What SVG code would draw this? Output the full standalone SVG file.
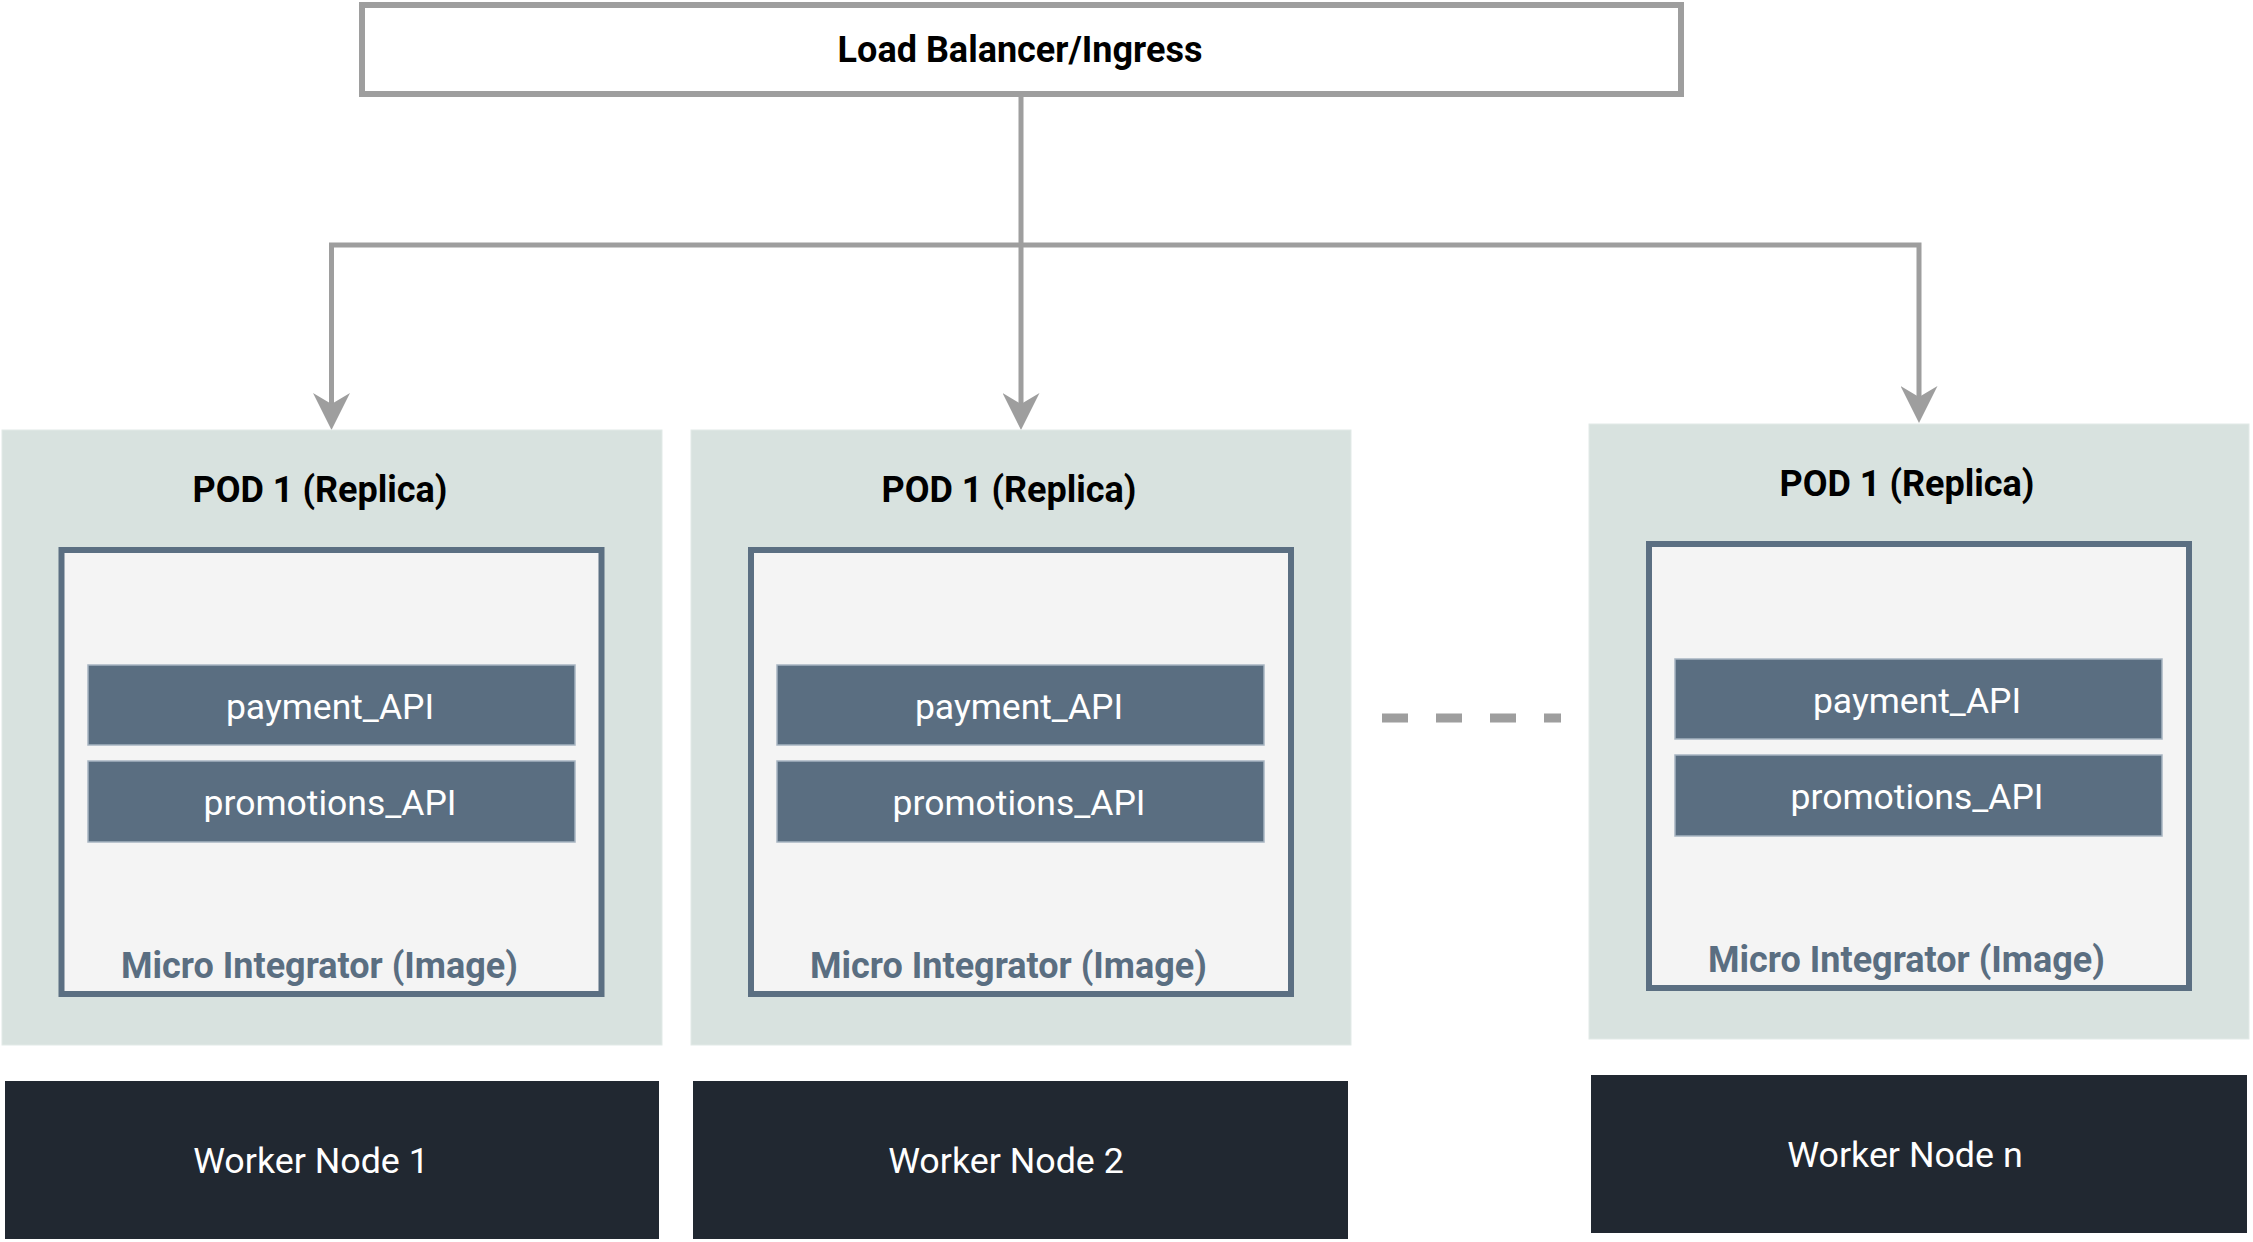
<svg xmlns="http://www.w3.org/2000/svg" width="2253" height="1242" viewBox="0 0 2253 1242">
  <style>
    .lb { fill: #ffffff; stroke: #9e9e9e; stroke-width: 6; }
    .pod { fill: #d8e2df; stroke: #e2eae7; stroke-width: 1; }
    .img { fill: #f4f4f4; stroke: #5b6f82; stroke-width: 6; }
    .api { fill: #5a6e81; stroke: #a6b4c1; stroke-width: 1.5; }
    .worker { fill: #212831; }
    .conn { fill: none; stroke: #9e9e9e; stroke-width: 5; stroke-linejoin: miter; }
    .dash { fill: none; stroke: #9e9e9e; stroke-width: 9; stroke-dasharray: 26 28; }
    text { font-family: Roboto, "Liberation Sans", sans-serif; text-anchor: middle; }
    .title { font-size: 36px; font-weight: 700; fill: #000000; }
    .apitxt { font-size: 35.5px; font-weight: 400; fill: #ffffff; }
    .imgtxt { font-size: 36px; font-weight: 700; fill: #5a6e81; }
    .wtxt { font-size: 35.8px; font-weight: 400; fill: #ffffff; }
  </style>
  <defs>
    <marker id="arrow" viewBox="0 0 37 37" refX="11" refY="18.5" markerWidth="37" markerHeight="37" markerUnits="userSpaceOnUse" orient="auto">
      <path d="M0,0 L37,18.5 L0,37 L11,18.5 Z" fill="#9e9e9e"/>
    </marker>
  </defs>
  <rect x="0" y="0" width="2253" height="1242" fill="#ffffff"/>

  <g id="load-balancer">
    <rect class="lb" x="362" y="5" width="1319" height="89"/>
    <text class="title" x="1020" y="62">Load Balancer/Ingress</text>
  </g>

  <g id="connectors">
    <path class="conn" d="M1021,97 V404" marker-end="url(#arrow)"/>
    <path class="conn" d="M1021,245 H331.5 V404" marker-end="url(#arrow)"/>
    <path class="conn" d="M1021,245 H1919 V397" marker-end="url(#arrow)"/>
    <path class="dash" d="M1382,718 H1561"/>
  </g>

  <g id="pod-1">
    <rect class="pod" x="2" y="430" width="660" height="615"/>
    <text class="title" x="320" y="502">POD 1 (Replica)</text>
    <rect class="img" x="61.5" y="550" width="540" height="444"/>
    <rect class="api" x="88" y="665" width="487" height="80"/>
    <text class="apitxt" x="330" y="719">payment_API</text>
    <rect class="api" x="88" y="761" width="487" height="81"/>
    <text class="apitxt" x="330" y="815">promotions_API</text>
    <text class="imgtxt" x="319.5" y="978">Micro Integrator (Image)</text>
  </g>

  <g id="pod-2">
    <rect class="pod" x="691" y="430" width="660" height="615"/>
    <text class="title" x="1009" y="502">POD 1 (Replica)</text>
    <rect class="img" x="751" y="550" width="540" height="444"/>
    <rect class="api" x="777" y="665" width="487" height="80"/>
    <text class="apitxt" x="1019" y="719">payment_API</text>
    <rect class="api" x="777" y="761" width="487" height="81"/>
    <text class="apitxt" x="1019" y="815">promotions_API</text>
    <text class="imgtxt" x="1008.5" y="978">Micro Integrator (Image)</text>
  </g>

  <g id="pod-3">
    <rect class="pod" x="1589" y="424" width="660" height="615"/>
    <text class="title" x="1907" y="496">POD 1 (Replica)</text>
    <rect class="img" x="1649" y="544" width="540" height="444"/>
    <rect class="api" x="1675" y="659" width="487" height="80"/>
    <text class="apitxt" x="1917" y="713">payment_API</text>
    <rect class="api" x="1675" y="755" width="487" height="81"/>
    <text class="apitxt" x="1917" y="809">promotions_API</text>
    <text class="imgtxt" x="1906.5" y="972">Micro Integrator (Image)</text>
  </g>

  <g id="worker-node-1">
    <rect class="worker" x="5" y="1081" width="654" height="158"/>
    <text class="wtxt" x="311" y="1173">Worker Node 1</text>
  </g>

  <g id="worker-node-2">
    <rect class="worker" x="693" y="1081" width="655" height="158"/>
    <text class="wtxt" x="1006" y="1173">Worker Node 2</text>
  </g>

  <g id="worker-node-n">
    <rect class="worker" x="1591" y="1075" width="656" height="158"/>
    <text class="wtxt" x="1905" y="1167">Worker Node n</text>
  </g>
</svg>
